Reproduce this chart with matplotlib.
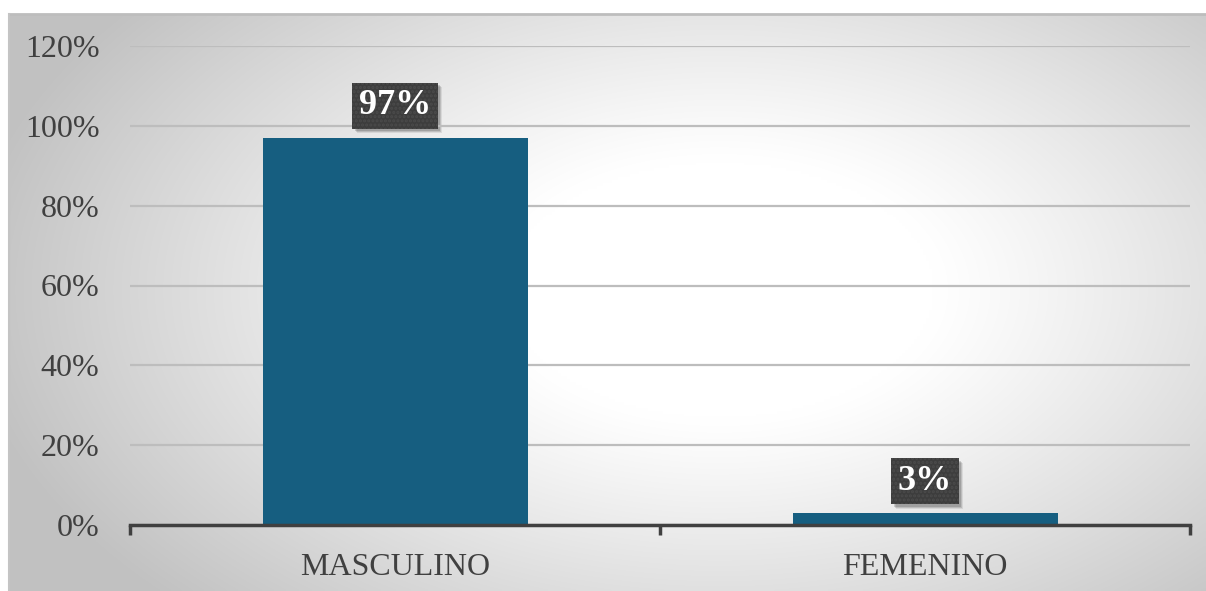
import numpy as np
import matplotlib.pyplot as plt
from matplotlib.patches import Rectangle
from matplotlib.ticker import FuncFormatter

# data
categorias = ["MASCULINO", "FEMENINO"]
porcentajes = [97, 3]
y_ticks = [0, 20, 40, 60, 80, 100, 120]

plt.rcParams['font.family'] = ['Liberation Serif', 'DejaVu Serif']
plt.rcParams['hatch.linewidth'] = 1.5

W, H = 1206, 591
fig = plt.figure(figsize=(W / 100, H / 100), dpi=100)
fig.patch.set_facecolor('white')

# radial gradient backdrop: white core fading to grey at the edges
bg = fig.add_axes([9 / W, 0, 1 - 9 / W, (H - 14) / H])
bg.set_axis_off()
bg.set_zorder(0)
xx, yy = np.meshgrid(np.linspace(9, W, 400), np.linspace(14, H, 200))
r = np.hypot((xx - 720) / 720, (yy - 290) / 430)
t = np.clip((r - 0.3) / 0.75, 0, 1)
shade = 1.0 - 0.24 * t ** 1.1
bg.imshow(np.dstack([shade] * 3), aspect='auto', extent=[0, 1, 0, 1],
          interpolation='bilinear')
bg.set_xlim(0, 1)
bg.set_ylim(0, 1)
bg.plot([0, 1], [1, 1], color='#bdbdbd', lw=2, transform=bg.transAxes, clip_on=False)
bg.plot([0, 0], [0, 1], color='#c4c4c4', lw=1.5, transform=bg.transAxes, clip_on=False)

ax = fig.add_axes([130 / W, (H - 525) / H, (1190 - 130) / W, (525 - 46) / H])
ax.set_facecolor('none')
ax.set_zorder(1)

x = np.arange(len(categorias))
ax.bar(x, porcentajes, width=0.5, color='#165E80', zorder=3)

ax.set_xlim(-0.5, len(categorias) - 0.5)
ax.set_ylim(0, 120)
ax.set_yticks(y_ticks)
ax.yaxis.set_major_formatter(FuncFormatter(lambda v, _: f"{v:.0f}%"))
ax.grid(axis='y', color='#bdbdbd', lw=1.6, zorder=0)

for side in ['top', 'right', 'left']:
    ax.spines[side].set_visible(False)
ax.spines['bottom'].set_color('#404040')
ax.spines['bottom'].set_linewidth(2.5)
ax.spines['bottom'].set_zorder(4)

ax.set_xticks([-0.5, 0.5, 1.5], minor=True)
ax.set_xticks(x)
ax.set_xticklabels(categorias)
ax.tick_params(axis='x', which='major', length=0, pad=20, labelsize=23, labelcolor='#404040')
ax.tick_params(axis='x', which='minor', length=7, width=2.5, color='#404040')
ax.tick_params(axis='y', length=0, pad=22, labelsize=23, labelcolor='#404040')

# value labels in dark dotted boxes
labels = []
for xi, val in zip(x, porcentajes):
    lbl = ax.annotate(f"{val}%", (xi, val), xytext=(0, 23), textcoords='offset points',
                      ha='center', va='center', fontsize=26, fontweight='bold',
                      color='white', zorder=5,
                      bbox=dict(boxstyle='square,pad=0.18', facecolor='#3d3d3d',
                                edgecolor='#4b4b4b', linewidth=0, hatch='....'))
    labels.append(lbl)

# soft drop shadow under each label box (between backdrop and plot axes)
fig.canvas.draw()
for lbl in labels:
    ext = lbl.get_bbox_patch().get_window_extent()
    for d, alpha in [(4.5, 0.08), (3.5, 0.12), (2.5, 0.15)]:
        fig.patches.append(Rectangle((ext.x0 + d, ext.y0 - d), ext.width, ext.height,
                                     transform=None, facecolor='black', alpha=alpha,
                                     linewidth=0, zorder=0.5, figure=fig))

fig.savefig('out.png', dpi=100)
